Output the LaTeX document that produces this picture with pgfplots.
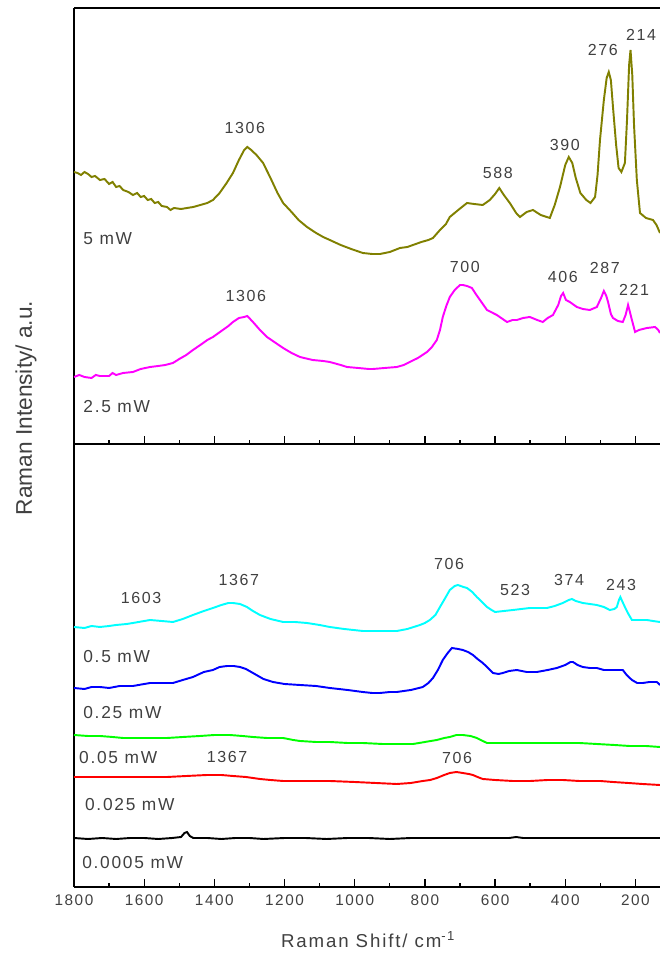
\documentclass[border=0pt]{standalone}
\usepackage{fontspec}
\usepackage{pgfplots}
\pgfplotsset{compat=1.18}
\setmainfont{Liberation Sans}
\newfontfamily\lbl[LetterSpace=10]{Liberation Sans}
\definecolor{txt}{rgb}{0.25,0.25,0.25}
\definecolor{olivec}{rgb}{0.5,0.5,0}
\definecolor{magc}{rgb}{1,0,1}
\definecolor{cyanc}{rgb}{0,1,1}
\definecolor{bluec}{rgb}{0,0,1}
\definecolor{greenc}{rgb}{0,1,0}
\definecolor{redc}{rgb}{1,0,0}
\tikzset{
 ann/.style={font=\lbl\fontsize{12}{14}\selectfont, text=txt, inner sep=0pt},
 lab/.style={font=\lbl\fontsize{13}{15}\selectfont, text=txt, inner sep=0pt, anchor=west},
}
\pgfplotsset{
 panel/.style={scale only axis, width=439.5pt, x dir=reverse, xmin=130, xmax=1800,
   axis y line*=left, ytick=\empty, xtick={200,400,600,800,1000,1200,1400,1600,1800},
   minor x tick num=1, xtick pos=bottom, tick align=inside,
   major tick length=6pt, minor tick length=3pt,
   axis line style={line width=1.3pt, black}, every tick/.style={black, line width=1pt},
   every axis plot/.append style={line width=1.45pt, line join=miter}},
}

\begin{document}
\begin{tikzpicture}
\useasboundingbox (0pt,0pt) rectangle (495pt,714.75pt);
% ---------------- top panel ----------------
\begin{axis}[panel, at={(55.5pt,381.75pt)}, anchor=south west, height=327pt,
  ymin=-444, ymax=-8, xticklabels=\empty]
\addplot[olivec] coordinates {
(1800,-172) (1790,-173) (1780,-175) (1770,-172) (1760,-174) (1750,-177) (1740,-176) (1726,-180) (1713,-179) (1700,-184) (1690,-182) (1680,-187) (1670,-186) (1660,-190) (1645,-192) (1632,-195) (1620,-193) (1610,-197) (1600,-196) (1590,-200) (1580,-199) (1570,-203) (1560,-202) (1550,-206) (1535,-207) (1525,-210) (1515,-208) (1495,-209) (1478,-208) (1460,-207) (1440,-205) (1420,-203) (1404,-200) (1385,-193) (1365,-183) (1347,-173) (1330,-160) (1315,-150) (1306,-147) (1295,-150) (1280,-155) (1261,-163) (1240,-178) (1220,-193) (1204,-203) (1180,-212) (1160,-220) (1136,-227) (1110,-233) (1090,-237) (1071,-240) (1040,-245) (1010,-249) (977,-253) (950,-254) (928,-254) (900,-252) (871,-248) (850,-247) (834,-245) (810,-242) (790,-240) (777,-238) (757,-230) (740,-224) (729,-217) (705,-210) (680,-203) (660,-204) (635,-205) (615,-200) (600,-194) (588,-188) (575,-195) (558,-203) (540,-213) (529,-217) (510,-212) (492,-210) (470,-215) (444,-218) (430,-205) (415,-187) (400,-165) (390,-157) (380,-163) (370,-178) (357,-193) (340,-200) (328,-203) (315,-197) (308,-175) (301,-140) (290,-100) (282,-78) (276,-72) (270,-80) (264,-107) (255,-145) (248,-168) (240,-172) (230,-163) (224,-120) (218,-65) (214,-50) (209,-75) (204,-125) (196,-180) (187,-213) (170,-218) (150,-220) (140,-225) (130,-233)
};
\addplot[magc] coordinates {
(1800,-377) (1785,-375) (1770,-377) (1750,-378) (1738,-375) (1726,-376) (1700,-376) (1690,-373) (1680,-375) (1660,-373) (1632,-372) (1610,-369) (1583,-367) (1560,-366) (1540,-365) (1518,-363) (1500,-359) (1480,-355) (1461,-350) (1440,-345) (1420,-340) (1404,-337) (1380,-331) (1360,-326) (1347,-322) (1330,-318) (1315,-317) (1306,-316) (1290,-322) (1270,-330) (1250,-337) (1225,-343) (1204,-348) (1180,-353) (1156,-357) (1120,-360) (1090,-361) (1071,-362) (1040,-365) (1022,-367) (990,-368) (960,-369) (948,-369) (915,-368) (880,-367) (860,-365) (843,-362) (820,-358) (794,-352) (780,-347) (766,-340) (757,-330) (749,-317) (739,-306) (729,-297) (715,-290) (700,-285) (692,-285) (680,-286) (666,-288) (655,-294) (643,-300) (623,-310) (595,-315) (566,-322) (550,-320) (538,-320) (520,-318) (501,-317) (480,-320) (464,-322) (450,-318) (435,-315) (420,-305) (412,-296) (406,-293) (398,-300) (387,-302) (367,-307) (350,-309) (330,-310) (310,-307) (298,-298) (290,-291) (283,-296) (278,-302) (270,-314) (264,-318) (250,-321) (236,-322) (228,-315) (221,-305) (215,-313) (210,-320) (201,-332) (190,-330) (167,-328) (144,-327) (135,-330) (130,-333)
};
\node[ann] at (axis cs:1313,-128) {1306};
\node[ann] at (axis cs:592,-173) {588};
\node[ann] at (axis cs:401,-145) {390};
\node[ann] at (axis cs:293,-50) {276};
\node[ann] at (axis cs:184,-35) {214};
\node[ann] at (axis cs:1310,-296) {1306};
\node[ann] at (axis cs:686,-267) {700};
\node[ann] at (axis cs:407,-277) {406};
\node[ann] at (axis cs:287,-268) {287};
\node[ann] at (axis cs:204,-290) {221};
\node[lab] at (axis cs:1774,-239) {5 mW};
\node[lab] at (axis cs:1774,-407) {2.5 mW};
\end{axis}
% ---------------- bottom panel ----------------
\begin{axis}[panel, at={(55.5pt,49.5pt)}, anchor=south west, height=332.25pt,
  ymin=-887, ymax=-444,
  xticklabels={200,400,600,800,1000,1200,1400,1600,1800},
  xticklabel style={font=\lbl\fontsize{11.5}{13}\selectfont, text=txt}, xticklabel shift=2pt]
\addplot[cyanc] coordinates {
(1800,-627) (1770,-628) (1750,-626) (1726,-627) (1700,-626) (1680,-625) (1650,-624) (1632,-623) (1600,-621) (1583,-620) (1550,-621) (1518,-622) (1490,-619) (1461,-615) (1430,-611) (1404,-608) (1380,-605) (1360,-603) (1347,-603) (1327,-604) (1307,-607) (1290,-611) (1270,-615) (1240,-619) (1204,-622) (1170,-622) (1136,-623) (1100,-625) (1071,-627) (1030,-629) (977,-631) (930,-631) (880,-631) (850,-629) (814,-625) (800,-623) (786,-620) (770,-615) (757,-607) (742,-598) (729,-590) (715,-586) (706,-585) (690,-587) (680,-588) (665,-592) (652,-597) (637,-602) (623,-607) (610,-610) (600,-612) (575,-611) (549,-610) (525,-609) (501,-608) (475,-608) (452,-608) (430,-606) (407,-603) (390,-600) (381,-599) (370,-601) (350,-603) (330,-604) (310,-605) (290,-607) (273,-610) (260,-609) (253,-607) (247,-600) (243,-597) (238,-601) (230,-607) (220,-614) (210,-620) (190,-620) (167,-620) (150,-621) (130,-622)
};
\addplot[bluec] coordinates {
(1800,-688) (1770,-689) (1750,-687) (1726,-687) (1700,-688) (1670,-686) (1632,-686) (1600,-684) (1583,-683) (1550,-683) (1518,-683) (1490,-680) (1461,-677) (1430,-672) (1404,-670) (1385,-667) (1364,-666) (1345,-666) (1327,-667) (1310,-669) (1290,-673) (1260,-679) (1233,-682) (1200,-684) (1156,-685) (1110,-686) (1071,-688) (1020,-690) (977,-692) (950,-693) (928,-693) (900,-692) (880,-692) (840,-690) (806,-687) (790,-683) (777,-678) (763,-670) (749,-660) (735,-653) (723,-648) (705,-649) (692,-650) (677,-652) (663,-655) (650,-659) (635,-663) (620,-668) (606,-673) (590,-674) (578,-673) (560,-671) (538,-670) (510,-672) (481,-672) (450,-670) (424,-668) (400,-665) (385,-662) (378,-662) (365,-665) (350,-667) (330,-668) (310,-668) (290,-670) (273,-670) (250,-670) (236,-670) (225,-675) (210,-680) (195,-683) (179,-683) (160,-682) (139,-682) (130,-685)
};
\addplot[greenc] coordinates {
(1800,-735) (1760,-736) (1726,-736) (1690,-737) (1660,-738) (1632,-738) (1590,-738) (1535,-738) (1490,-737) (1441,-736) (1400,-735) (1356,-735) (1320,-736) (1290,-737) (1250,-738) (1204,-738) (1175,-740) (1156,-741) (1110,-742) (1071,-742) (1020,-743) (977,-743) (920,-744) (870,-744) (834,-744) (800,-742) (766,-740) (745,-738) (729,-737) (710,-735) (692,-735) (670,-736) (652,-738) (635,-741) (623,-743) (590,-743) (549,-743) (500,-743) (450,-743) (407,-743) (360,-743) (310,-744) (260,-745) (216,-746) (170,-746) (130,-747)
};
\addplot[redc] coordinates {
(1800,-777) (1750,-777) (1700,-777) (1632,-777) (1580,-777) (1535,-777) (1480,-776) (1421,-775) (1380,-775) (1347,-776) (1310,-777) (1270,-779) (1240,-780) (1204,-781) (1150,-781) (1100,-781) (1071,-781) (1000,-782) (940,-783) (880,-784) (840,-783) (806,-781) (785,-780) (766,-778) (745,-775) (729,-773) (710,-772) (692,-773) (675,-774) (663,-775) (650,-777) (635,-779) (600,-780) (549,-781) (500,-781) (450,-780) (407,-780) (360,-781) (300,-781) (264,-782) (220,-783) (180,-784) (130,-785)
};
\addplot[black] coordinates {
(1800,-838) (1760,-839) (1720,-838) (1680,-839) (1640,-838) (1600,-838) (1560,-839) (1520,-838) (1495,-837) (1485,-833) (1478,-832) (1470,-836) (1460,-838) (1420,-838) (1380,-839) (1340,-838) (1300,-838) (1260,-839) (1200,-838) (1140,-838) (1080,-839) (1020,-838) (960,-838) (900,-839) (840,-838) (780,-838) (720,-838) (660,-838) (600,-838) (560,-838) (540,-837) (520,-838) (480,-838) (420,-838) (360,-838) (300,-838) (240,-838) (180,-838) (130,-838)
};
\node[ann] at (axis cs:1609,-598) {1603};
\node[ann] at (axis cs:1330,-580) {1367};
\node[ann] at (axis cs:731,-564) {706};
\node[ann] at (axis cs:543,-590) {523};
\node[ann] at (axis cs:389,-580) {374};
\node[ann] at (axis cs:241,-585) {243};
\node[ann] at (axis cs:1364,-757) {1367};
\node[ann] at (axis cs:708,-758) {706};
\node[lab] at (axis cs:1774,-657) {0.5 mW};
\node[lab] at (axis cs:1774,-713) {0.25 mW};
\node[lab] at (axis cs:1786,-758) {0.05 mW};
\node[lab] at (axis cs:1769,-805) {0.025 mW};
\node[lab] at (axis cs:1777,-863) {0.0005 mW};
\end{axis}
\node[rotate=90, font=\fontsize{17}{20}\selectfont, text=txt] at (19.5pt,408.75pt) {Raman Intensity/ a.u.};
\node[anchor=base, font=\lbl\fontsize{14}{16}\selectfont, text=txt] at (276pt,4.5pt) {Raman Shift/ cm\textsuperscript{-1}};
\end{tikzpicture}
\end{document}
